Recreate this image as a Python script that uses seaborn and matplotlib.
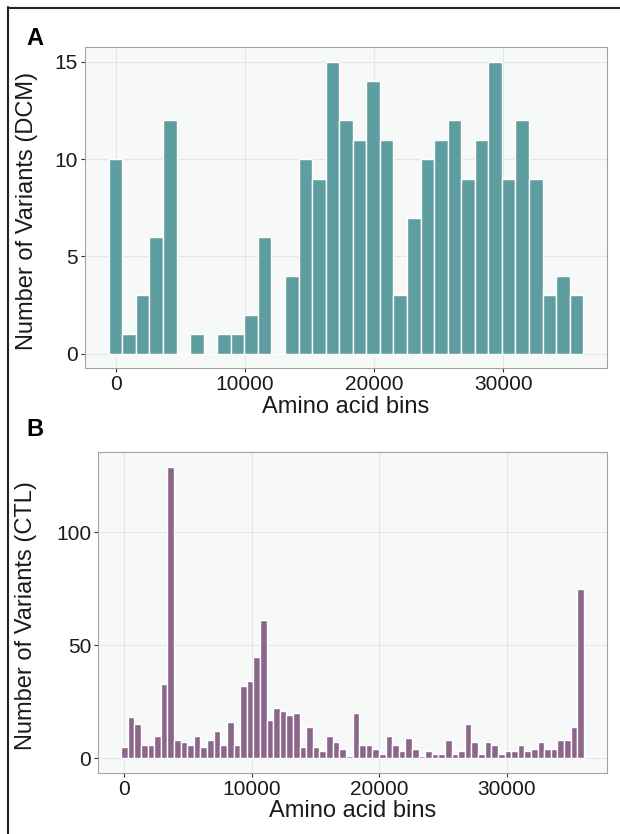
import matplotlib
matplotlib.use("Agg")
import matplotlib.pyplot as plt
from matplotlib.lines import Line2D
import seaborn as sns
import pandas as pd

# ---- data -------------------------------------------------------------
dcm_bin_centers = [0, 1049, 2097, 3146, 4194, 5243, 6291, 7340, 8388, 9437,
                   10485, 11534, 12582, 13631, 14679, 15728, 16776, 17825,
                   18873, 19922, 20971, 22019, 23068, 24116, 25165, 26213,
                   27262, 28310, 29359, 30407, 31456, 32504, 33553, 34601,
                   35650]
dcm_counts = [10, 1, 3, 6, 12, 0, 1, 0, 1, 1,
              2, 6, 0, 4, 10, 9, 15, 12,
              11, 14, 11, 3, 7, 10, 11, 12,
              9, 11, 15, 9, 12, 9, 3, 4,
              3]

ctl_bin_centers = [0, 519, 1038, 1557, 2075, 2594, 3113, 3632, 4151, 4670,
                   5188, 5707, 6226, 6745, 7264, 7783, 8301, 8820, 9339, 9858,
                   10377, 10896, 11414, 11933, 12452, 12971, 13490, 14009,
                   14528, 15046, 15565, 16084, 16603, 17122, 17641, 18159,
                   18678, 19197, 19716, 20235, 20754, 21272, 21791, 22310,
                   22829, 23348, 23867, 24385, 24904, 25423, 25942, 26461,
                   26980, 27499, 28017, 28536, 29055, 29574, 30093, 30612,
                   31130, 31649, 32168, 32687, 33206, 33725, 34243, 34762,
                   35281, 35800]
ctl_counts = [5, 18, 15, 6, 6, 10, 33, 129, 8, 7,
              6, 10, 5, 8, 12, 6, 16, 6, 32, 34,
              45, 61, 17, 22, 21, 19, 20, 5,
              14, 5, 3, 10, 7, 4, 1, 20,
              6, 6, 4, 2, 10, 6, 3, 9,
              4, 1, 3, 2, 2, 8, 2, 3,
              15, 7, 2, 7, 6, 2, 3, 3,
              6, 3, 4, 7, 4, 4, 8, 8,
              14, 75]

x_ticks = [0, 10000, 20000, 30000]
x_tick_labels = ["0", "10000", "20000", "30000"]
dcm_y_ticks = [0, 5, 10, 15]
ctl_y_ticks = [0, 50, 100]

x_label = "Amino acid bins"
dcm_y_label = "Number of Variants (DCM)"
ctl_y_label = "Number of Variants (CTL)"

dcm_color = "#5F9EA0"
ctl_color = "#8B668B"

# ---- style ------------------------------------------------------------
sns.set_style("white")
plt.rcParams["font.family"] = ["Liberation Sans", "DejaVu Sans"]

W, H = 620, 834
fig = plt.figure(figsize=(W / 100, H / 100), dpi=100)


def px_axes(l, t, r, b):
    return fig.add_axes([l / W, 1 - b / H, (r - l) / W, (b - t) / H])


def style_panel(ax, centers, counts, color, yticks, ylabel, ylab_x):
    width = (centers[-1] - centers[0]) / (len(centers) - 1)
    df = pd.DataFrame({"pos": centers, "n": counts})
    sns.histplot(data=df, x="pos", weights="n", ax=ax,
                 binwidth=width,
                 binrange=(centers[0] - width / 2, centers[-1] + width / 2),
                 color=color, alpha=1, edgecolor="white", linewidth=1.0,
                 zorder=3)
    lo, hi = centers[0] - width / 2, centers[-1] + width / 2
    ex = (hi - lo) * 0.05
    ax.set_xlim(lo - ex, hi + ex)
    ymax = max(counts)
    ax.set_ylim(-0.05 * ymax, ymax * 1.05)
    ax.set_facecolor("#F7F9F9")
    ax.set_xticks(x_ticks)
    ax.set_xticklabels(x_tick_labels)
    ax.set_yticks(yticks)
    ax.grid(True, color="#E6E6E6", linewidth=0.8, zorder=0)
    ax.set_axisbelow(True)
    for s in ax.spines.values():
        s.set_color("#A3A3A3")
        s.set_linewidth(0.8)
    ax.tick_params(axis="both", which="major", direction="out", length=3,
                   width=0.8, color="#333333", labelcolor="#1A1A1A",
                   labelsize=15, pad=2, bottom=True, left=True)
    ax.set_xlabel(x_label, fontsize=17, color="#1A1A1A", labelpad=1)
    ax.set_ylabel(ylabel, fontsize=17, color="#1A1A1A")
    ax.yaxis.set_label_coords(ylab_x, 0.49)


axA = px_axes(85, 47.3, 607, 368.3)
style_panel(axA, dcm_bin_centers, dcm_counts, dcm_color, dcm_y_ticks,
            dcm_y_label, (38 - 85) / 522)

axB = px_axes(98, 452.3, 607, 772.7)
style_panel(axB, ctl_bin_centers, ctl_counts, ctl_color, ctl_y_ticks,
            ctl_y_label, (37 - 98) / 509)

fig.text(26 / W, 1 - 45 / H, "A", fontsize=17, fontweight="bold",
         ha="left", va="baseline", color="black")
fig.text(26 / W, 1 - 436 / H, "B", fontsize=17, fontweight="bold",
         ha="left", va="baseline", color="black")

fig.add_artist(Line2D([8.3 / W, 8.3 / W], [0, 1 - 7.2 / H],
                      transform=fig.transFigure, color="#222222", lw=1.5))
fig.add_artist(Line2D([7.6 / W, 1], [1 - 8 / H, 1 - 8 / H],
                      transform=fig.transFigure, color="#222222", lw=1.5))

fig.savefig("out.png", dpi=100)
